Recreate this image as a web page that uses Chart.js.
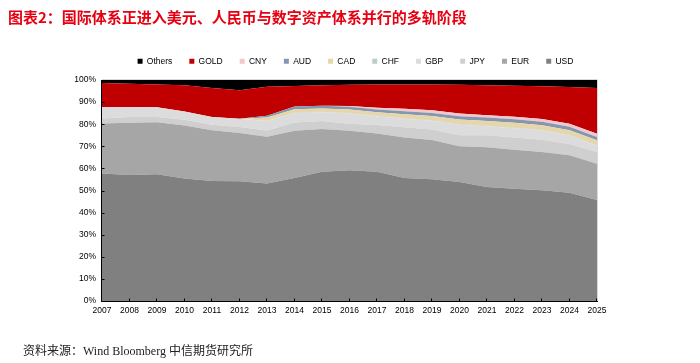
<!DOCTYPE html>
<html>
<head>
<meta charset="utf-8">
<script src="https://cdn.jsdelivr.net/npm/chart.js@4.4.0/dist/chart.umd.min.js"></script>
<style>
  html, body { margin: 0; padding: 0; background: #fff; }
  #wrap { position: relative; width: 700px; height: 363px; overflow: hidden; }
  #chart { position: absolute; left: 0; top: 0; }
  #title { position: absolute; left: 8px; top: 6px; font: bold 15px "Noto Sans CJK SC", sans-serif; color: #e60012; white-space: nowrap; }
  #source { position: absolute; left: 23px; top: 341px; font: 12px "Liberation Serif", "Noto Sans CJK SC", serif; color: #222; white-space: nowrap; }
</style>
</head>
<body>
<div id="wrap">
  <canvas id="chart" width="700" height="363"></canvas>
  <div id="title">图表2：国际体系正进入美元、人民币与数字资产体系并行的多轨阶段</div>
  <div id="source">资料来源：Wind Bloomberg 中信期货研究所</div>
</div>
<script>
// ---------- data (share of total reserves, %) ----------
const years = ["2007","2008","2009","2010","2011","2012","2013","2014","2015","2016",
               "2017","2018","2019","2020","2021","2022","2023","2024","2025"];

const usd    = [57.7,57.0,57.3,55.4,54.3,54.2,53.2,55.6,58.5,59.2,58.5,55.7,55.1,53.8,51.6,50.8,50.1,49.0,45.7];
const eur    = [22.6,23.7,23.6,24.0,23.0,21.8,21.1,21.4,19.3,17.8,17.3,18.3,17.7,16.2,18.0,17.6,17.3,16.9,16.4];
const jpy    = [ 2.3, 2.6, 2.4, 2.6, 2.5, 2.7, 2.9, 3.8, 3.6, 3.2, 3.8, 4.6, 4.8, 5.0, 5.4, 5.6, 5.6, 5.1, 5.3];
const gbp    = [ 5.2, 4.5, 4.4, 3.8, 3.5, 3.8, 4.2, 4.2, 4.0, 4.6, 4.0, 3.9, 4.0, 4.8, 4.1, 4.2, 4.1, 3.9, 2.9];
const chf    = [ 0.0, 0.0, 0.0, 0.0, 0.0, 0.0, 0.2, 0.2, 0.2, 0.2, 0.2, 0.2, 0.2, 0.2, 0.2, 0.2, 0.2, 0.2, 0.2];
const cad    = [ 0.0, 0.0, 0.0, 0.0, 0.0, 0.0, 1.4, 1.6, 1.5, 1.6, 1.6, 1.8, 1.9, 2.1, 2.2, 2.2, 2.2, 2.2, 2.2];
const aud    = [ 0.0, 0.0, 0.0, 0.0, 0.0, 0.0, 0.8, 1.2, 1.3, 1.3, 1.3, 1.4, 1.4, 1.5, 1.5, 1.6, 1.6, 1.6, 1.5];
const cny    = [ 0.0, 0.0, 0.0, 0.0, 0.0, 0.0, 0.0, 0.0, 0.0, 0.3, 0.7, 1.1, 1.2, 1.2, 1.0, 1.2, 1.3, 1.3, 1.5];
const gold   = [10.8,10.5,10.3,11.8,13.1,12.9,13.1, 9.3, 9.2, 9.7,10.6,11.0,11.7,13.1,13.6,14.0,14.8,16.6,20.7];
const others = [ 1.4, 1.7, 2.0, 2.4, 3.6, 4.6, 3.1, 2.7, 2.4, 2.1, 2.0, 2.0, 2.0, 2.1, 2.4, 2.6, 2.8, 3.2, 3.6];

const yTicks = [0,10,20,30,40,50,60,70,80,90,100];

// bottom -> top
const series = [
  { label: "USD",    data: usd,    color: "#808080" },
  { label: "EUR",    data: eur,    color: "#a6a6a6" },
  { label: "JPY",    data: jpy,    color: "#cfcfcf" },
  { label: "GBP",    data: gbp,    color: "#dcdcdc" },
  { label: "CHF",    data: chf,    color: "#b7cdce" },
  { label: "CAD",    data: cad,    color: "#e8d6ab" },
  { label: "AUD",    data: aud,    color: "#8497b0" },
  { label: "CNY",    data: cny,    color: "#f5c6cb" },
  { label: "GOLD",   data: gold,   color: "#c00000" },
  { label: "Others", data: others, color: "#000000" }
];

const FONT = "Liberation Sans";

// axis lines, inner tick marks and light plot border, drawn over the fills
const frame = {
  id: "frame",
  afterDatasetsDraw(chart) {
    const { ctx, chartArea: a, scales: { x, y } } = chart;
    ctx.save();
    ctx.lineWidth = 1;
    ctx.strokeStyle = "#d9d9d9";
    ctx.beginPath();
    ctx.moveTo(a.left, Math.round(a.top) - 0.5);
    ctx.lineTo(Math.round(a.right) + 0.5, Math.round(a.top) - 0.5);
    ctx.lineTo(Math.round(a.right) + 0.5, a.bottom);
    ctx.stroke();

    ctx.strokeStyle = "#000";
    ctx.beginPath();
    const L = Math.round(a.left) - 0.5, B = Math.round(a.bottom) + 0.5;
    ctx.moveTo(L, a.top); ctx.lineTo(L, B); ctx.lineTo(a.right + 1, B);
    x.ticks.forEach((t, i) => {
      const px = Math.round(x.getPixelForTick(i)) - 0.5;
      ctx.moveTo(px, B); ctx.lineTo(px, B - 3);
    });
    y.ticks.forEach((t, i) => {
      const py = Math.round(y.getPixelForTick(i)) + 0.5;
      ctx.moveTo(L, py); ctx.lineTo(L + 3, py);
    });
    ctx.stroke();
    ctx.restore();
  }
};

// fixed legend band height, and legend nudged right to sit where the original one does
const legendBand = {
  id: "legendBand",
  beforeInit(chart) {
    const lg = chart.legend;
    if (!lg) return;
    const fit = lg.fit;
    lg.fit = function () { fit.call(this); this.height = 40; };
    const draw = lg.draw;
    lg.draw = function () {
      const ctx = this.ctx;
      ctx.save();
      ctx.translate(57, 0);
      draw.call(this);
      ctx.restore();
    };
  }
};

new Chart(document.getElementById("chart"), {
  type: "line",
  data: {
    labels: years,
    datasets: series.map((s, i) => ({
      label: s.label,
      data: s.data,
      backgroundColor: s.color,
      borderColor: s.color,
      borderWidth: 0,
      pointRadius: 0,
      tension: 0,
      fill: i === 0 ? "origin" : "-1"
    }))
  },
  options: {
    responsive: false,
    animation: false,
    layout: { padding: { left: 0, right: 103, top: 40, bottom: 0 } },
    scales: {
      x: {
        type: "category",
        offset: false,
        grid: { display: false, drawTicks: false },
        border: { display: false },
        ticks: { autoSkip: false, maxRotation: 0, padding: 5, color: "#000", font: { family: FONT, size: 8.5 } },
        afterFit: (s) => { s.height = 62; }
      },
      y: {
        stacked: true,
        min: 0, max: 100,
        afterBuildTicks: (s) => { s.ticks = yTicks.map((v) => ({ value: v })); },
        grid: { display: false, drawTicks: false },
        border: { display: false },
        ticks: { padding: 6, color: "#000", font: { family: FONT, size: 8.5 }, callback: (v) => v + "%" },
        afterFit: (s) => { s.width = 102; }
      }
    },
    plugins: {
      legend: {
        position: "top",
        reverse: true,
        labels: { boxWidth: 5, boxHeight: 5, padding: 17, color: "#000", font: { family: FONT, size: 8.5 } }
      },
      tooltip: { enabled: false }
    }
  },
  plugins: [frame, legendBand]
});
</script>
</body>
</html>
